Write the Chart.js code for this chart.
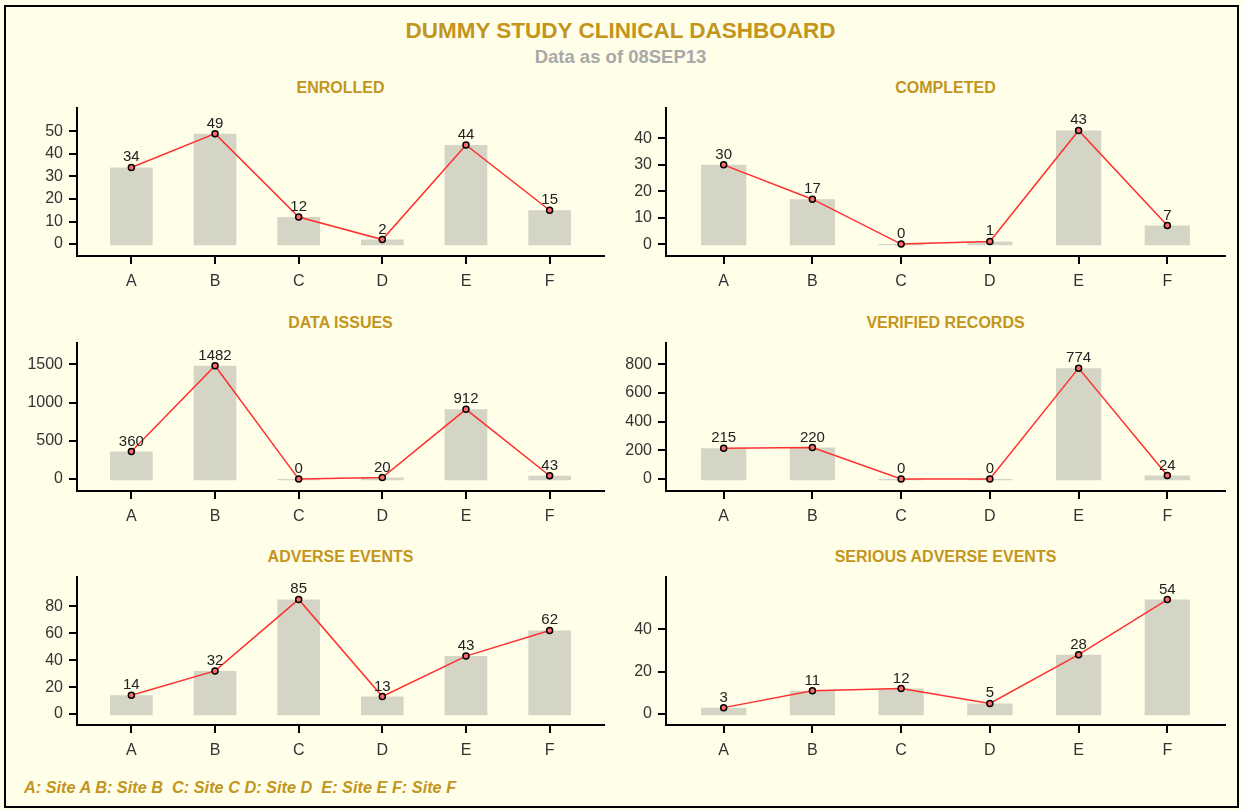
<!DOCTYPE html>
<html>
<head>
<meta charset="utf-8">
<script src="https://cdn.jsdelivr.net/npm/chart.js@4/dist/chart.umd.min.js"></script>
<style>
  body { margin: 0; background: #fffee8; width: 1241px; height: 810px; overflow: hidden; position: relative; font-family: "Liberation Sans", Arial, sans-serif; }
  #frame { position: absolute; left: 4px; top: 5px; width: 1231px; height: 799px; border: 2px solid #000; }
  .txt { position: absolute; white-space: pre; line-height: 1; }
  .gold { color: #c3951d; font-weight: bold; }
  canvas { position: absolute; }
</style>
</head>
<body>
<div id="frame"></div>
<div class="txt gold" style="left:0;width:1241px;text-align:center;top:20px;font-size:22.5px;">DUMMY STUDY CLINICAL DASHBOARD</div>
<div class="txt" style="left:0;width:1241px;text-align:center;top:48px;font-size:18.5px;font-weight:bold;color:#a9a9a9;">Data as of 08SEP13</div>
<div class="txt gold" style="left:24px;top:779px;font-size:16.3px;font-style:italic;">A: Site A B: Site B  C: Site C D: Site D  E: Site E F: Site F</div>

<script>
// sites on the x axis
const sites = ['A', 'B', 'C', 'D', 'E', 'F'];

// values per site
const enrolled = [34, 49, 12, 2, 44, 15];
const completed = [30, 17, 0, 1, 43, 7];
const dataIssues = [360, 1482, 0, 20, 912, 43];
const verified = [215, 220, 0, 0, 774, 24];
const adverse = [14, 32, 85, 13, 43, 62];
const serious = [3, 11, 12, 5, 28, 54];

// y tick labels
const enrolledTicks = [0, 10, 20, 30, 40, 50];
const completedTicks = [0, 10, 20, 30, 40];
const dataIssuesTicks = [0, 500, 1000, 1500];
const verifiedTicks = [0, 200, 400, 600, 800];
const adverseTicks = [0, 20, 40, 60, 80];
const seriousTicks = [0, 20, 40];

// panel layout (col 0 = left, col 1 = right; row 0..2)
const panels = [
    { id: 'enrolled', title: 'ENROLLED', values: enrolled, ticks: enrolledTicks, col: 0, row: 0, min: -5.3, max: 60.6 },
    { id: 'completed', title: 'COMPLETED', values: completed, ticks: completedTicks, col: 1, row: 0, min: -4.5, max: 51.7 },
    { id: 'issues', title: 'DATA ISSUES', values: dataIssues, ticks: dataIssuesTicks, col: 0, row: 1, min: -156, max: 1786 },
    { id: 'verified', title: 'VERIFIED RECORDS', values: verified, ticks: verifiedTicks, col: 1, row: 1, min: -83.5, max: 953 },
    { id: 'adverse', title: 'ADVERSE EVENTS', values: adverse, ticks: adverseTicks, col: 0, row: 2, min: -8.1, max: 102 },
    { id: 'serious', title: 'SERIOUS ADVERSE EVENTS', values: serious, ticks: seriousTicks, col: 1, row: 2, min: -5.2, max: 64.9 }
];

const colLeft = [0, 620];
const colWidth = [620, 621];
const yAxisWidth = [77, 46];
const padRight = [16, 16];
const areaTop = [107, 342, 576];
const areaHeight = 149;
const xAxisHeight = 40;
const padTop = 5;

const tickFont = { family: '"Liberation Sans", Arial, sans-serif', size: 16 };

// value labels above the line points
const pointLabels = {
    id: 'pointLabels',
    afterDatasetsDraw(chart) {
        const ctx = chart.ctx;
        const meta = chart.getDatasetMeta(1);
        const ds = chart.data.datasets[1];
        ctx.save();
        ctx.font = '15px "Liberation Sans", Arial, sans-serif';
        ctx.fillStyle = '#222';
        ctx.textAlign = 'center';
        ctx.textBaseline = 'alphabetic';
        meta.data.forEach((pt, i) => {
            ctx.fillText(String(ds.data[i].y), pt.x, pt.y - 6);
        });
        ctx.restore();
    }
};

panels.forEach(p => {
    const left = colLeft[p.col];
    const width = colWidth[p.col];
    const top = areaTop[p.row] - padTop;
    const height = padTop + areaHeight + xAxisHeight;

    // panel title
    const t = document.createElement('div');
    t.className = 'txt gold';
    t.style.left = (left + yAxisWidth[p.col]) + 'px';
    t.style.width = (width - yAxisWidth[p.col] - padRight[p.col]) + 'px';
    t.style.textAlign = 'center';
    t.style.top = (areaTop[p.row] - 27) + 'px';
    t.style.fontSize = '16px';
    t.textContent = p.title;
    document.body.appendChild(t);

    const canvas = document.createElement('canvas');
    canvas.id = p.id;
    canvas.width = width;
    canvas.height = height;
    canvas.style.left = left + 'px';
    canvas.style.top = top + 'px';
    document.body.appendChild(canvas);

    const points = sites.map((s, i) => ({ x: i, y: p.values[i] }));

    new Chart(canvas.getContext('2d'), {
        type: 'bar',
        data: {
            datasets: [{
                type: 'bar',
                data: points,
                backgroundColor: '#d5d5c6',
                barPercentage: 0.51,
                categoryPercentage: 1,
                base: -(p.max - p.min) * 0.008,
                order: 2
            }, {
                type: 'line',
                data: points,
                borderColor: '#ff3030',
                borderWidth: 1.5,
                pointRadius: 3,
                pointBorderColor: '#000',
                pointBorderWidth: 1.5,
                pointBackgroundColor: '#ff6a6a',
                tension: 0,
                order: 1
            }]
        },
        options: {
            responsive: false,
            animation: false,
            devicePixelRatio: 1,
            layout: { padding: { top: padTop, right: padRight[p.col], left: 0, bottom: 0 } },
            plugins: { legend: { display: false }, tooltip: { enabled: false } },
            scales: {
                x: {
                    type: 'linear',
                    offset: false,
                    bounds: 'data',
                    min: -0.65,
                    max: sites.length - 1 + 0.65,
                    afterBuildTicks: s => { s.ticks = sites.map((_, i) => ({ value: i })); },
                    afterFit: s => { s.height = xAxisHeight; s.paddingLeft = 0; s.paddingRight = 0; },
                    ticks: {
                        callback: v => sites[v],
                        font: tickFont,
                        color: '#333',
                        padding: 8,
                        autoSkip: false,
                        maxRotation: 0
                    },
                    grid: { display: true, offset: false, drawOnChartArea: false, drawTicks: true, tickLength: 8, tickColor: '#000', tickWidth: 2, lineWidth: 2 },
                    border: { display: true, color: '#000', width: 2 }
                },
                y: {
                    min: p.min,
                    max: p.max,
                    afterBuildTicks: s => { s.ticks = p.ticks.map(v => ({ value: v })); },
                    afterFit: s => { s.width = yAxisWidth[p.col]; s.paddingTop = 0; s.paddingBottom = 0; },
                    ticks: {
                        callback: v => String(v),
                        font: tickFont,
                        color: '#333',
                        padding: 6
                    },
                    grid: { display: true, drawOnChartArea: false, drawTicks: true, tickLength: 8, tickColor: '#000', tickWidth: 2, lineWidth: 2 },
                    border: { display: true, color: '#000', width: 2 }
                }
            }
        },
        plugins: [pointLabels]
    });
});
</script>
</body>
</html>
